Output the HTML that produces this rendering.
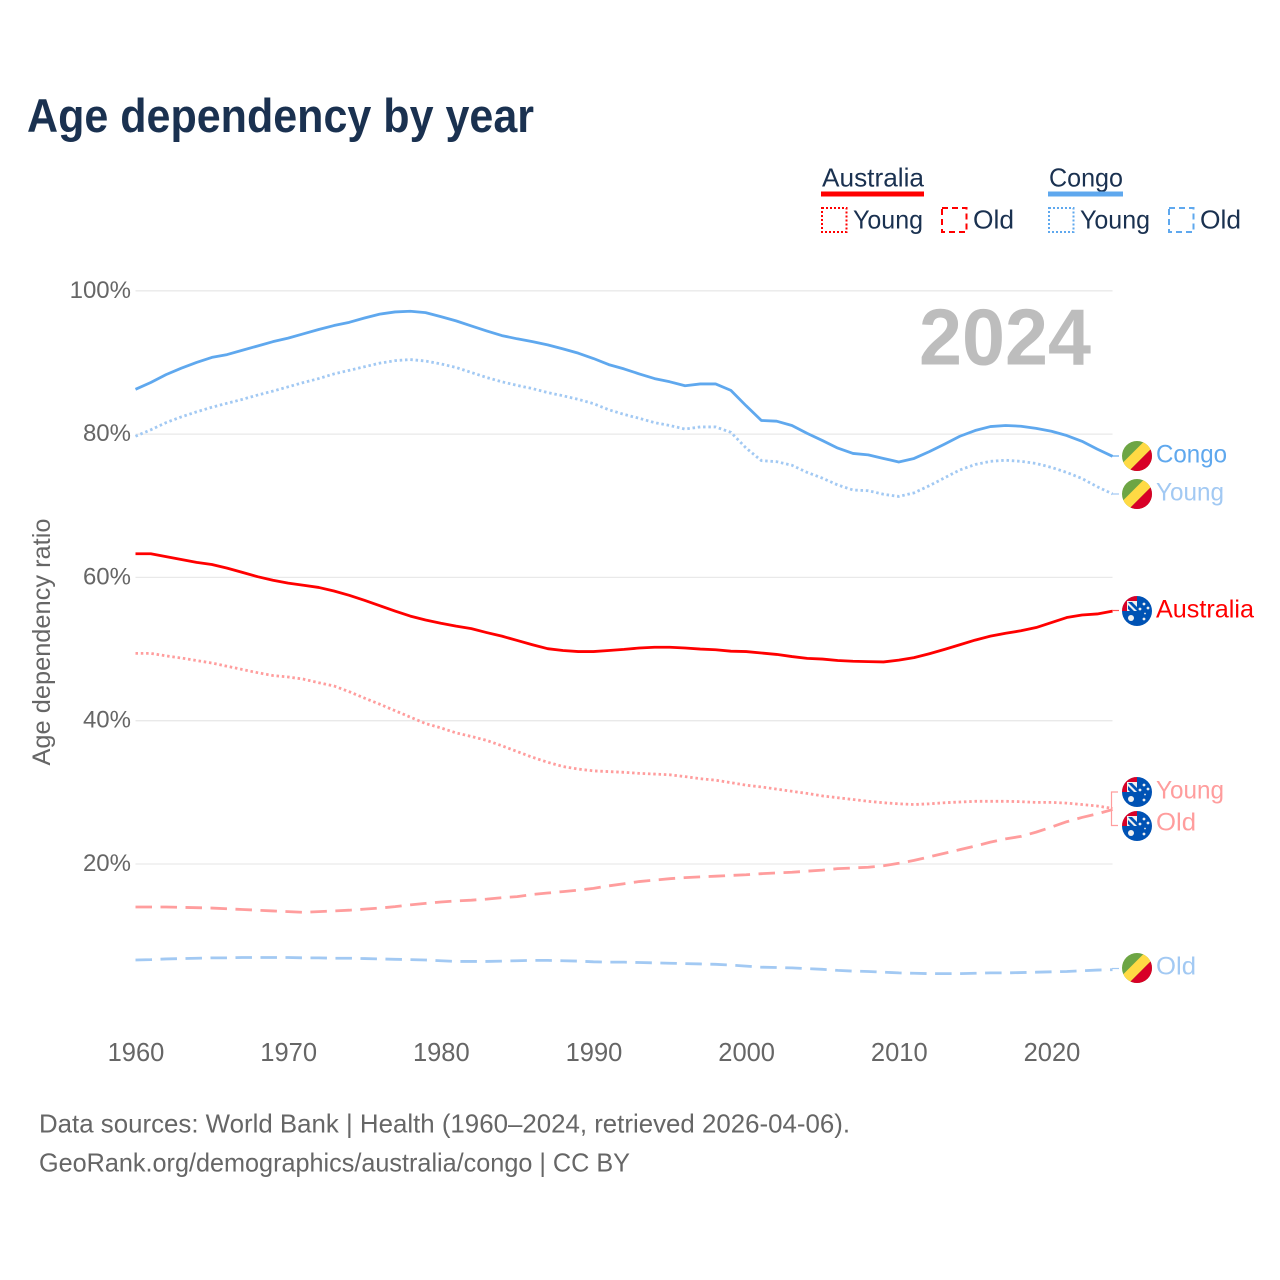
<!DOCTYPE html>
<html lang="en">
<head>
<meta charset="utf-8">
<title>Age dependency by year</title>
<style>
  html, body { margin: 0; padding: 0; background: #fff; }
  svg { display: block; font-family: "Liberation Sans", sans-serif; }
</style>
</head>
<body>
<svg id="chart" xmlns="http://www.w3.org/2000/svg" width="1280" height="1280" viewBox="0 0 1280 1280">
  <defs>
    <clipPath id="flag-clip"><circle cx="0" cy="0" r="15"/></clipPath>
    <g id="flag-congo" clip-path="url(#flag-clip)">
      <rect x="-16" y="-16" width="32" height="32" fill="#6da544"/>
      <polygon points="-20,12.5 12.5,-20 27,-20 -20,27" fill="#ffda44"/>
      <polygon points="-20,27 27,-20 27,27" fill="#d80027"/>
    </g>
    <g id="flag-australia" clip-path="url(#flag-clip)">
      <rect x="-16" y="-16" width="32" height="32" fill="#0052b4"/>
      <rect x="-15" y="-15" width="15" height="15" fill="#f0f0f0"/>
      <path d="M-15,-15 H0 V-10 H-10 V0 H-15 Z" fill="#d80027"/>
      <polygon points="-9,-9 -5,-9 0,-4 0,0" fill="#0052b4"/>
      <polygon points="-9,-6 -3,0 -7,0 -9,-2" fill="#0052b4"/>
      <circle cx="-6" cy="7" r="3" fill="#f0f0f0"/>
      <circle cx="7" cy="-7" r="1.4" fill="#f0f0f0"/>
      <circle cx="11" cy="-3" r="1.4" fill="#f0f0f0"/>
      <circle cx="3" cy="-2" r="1.4" fill="#f0f0f0"/>
      <circle cx="7" cy="8" r="1.4" fill="#f0f0f0"/>
      <circle cx="8" cy="2.5" r="0.9" fill="#f0f0f0"/>
    </g>
  </defs>

  <text x="27" y="132" font-size="47" font-weight="700" fill="#1a3150" textLength="507" lengthAdjust="spacingAndGlyphs">Age dependency by year</text>

  <g fill="#1a3150" font-size="26">
    <text x="822" y="186.5" textLength="102" lengthAdjust="spacingAndGlyphs">Australia</text>
    <rect x="821" y="191.5" width="103" height="5" fill="#ff0000"/>
    <rect x="822" y="208" width="24.5" height="24" fill="none" stroke="#ff0000" stroke-width="2" stroke-dasharray="2 2"/>
    <text x="853" y="228.5" textLength="70" lengthAdjust="spacingAndGlyphs">Young</text>
    <rect x="942" y="208" width="24.5" height="24" fill="none" stroke="#ff0000" stroke-width="2" stroke-dasharray="6 4"/>
    <text x="973" y="228.5" textLength="41" lengthAdjust="spacingAndGlyphs">Old</text>

    <text x="1049" y="186.5" textLength="74" lengthAdjust="spacingAndGlyphs">Congo</text>
    <rect x="1048" y="191.5" width="75" height="5" fill="#5fa8ee"/>
    <rect x="1049" y="208" width="24.5" height="24" fill="none" stroke="#5fa8ee" stroke-width="2" stroke-dasharray="2 2"/>
    <text x="1080" y="228.5" textLength="70" lengthAdjust="spacingAndGlyphs">Young</text>
    <rect x="1169" y="208" width="24.5" height="24" fill="none" stroke="#5fa8ee" stroke-width="2" stroke-dasharray="6 4"/>
    <text x="1200" y="228.5" textLength="41" lengthAdjust="spacingAndGlyphs">Old</text>
  </g>

  <g id="grid"></g>
  <g id="y-ticks"></g>
  <g id="x-ticks"></g>

  <text transform="translate(50 642) rotate(-90)" text-anchor="middle" font-size="25" fill="#666666" textLength="247" lengthAdjust="spacingAndGlyphs">Age dependency ratio</text>

  <text x="919" y="364.5" font-size="80" font-weight="700" fill="#bdbdbd" textLength="172" lengthAdjust="spacingAndGlyphs">2024</text>

  <g id="series"></g>

  <g fill="none" stroke-width="1.2">
    <path d="M1112 456 H1119" stroke="#5fa8ee"/>
    <path d="M1112 494 H1119" stroke="#a2c9f3"/>
    <path d="M1112 610.5 H1119" stroke="#ff5555"/>
    <path d="M1118 792 H1111.5 V825.5 H1118" stroke="#ff9d9d"/>
    <path d="M1112 968.5 H1119" stroke="#a2c9f3"/>
  </g>

  <g>
    <use href="#flag-congo" x="1137" y="456"/>
    <use href="#flag-congo" x="1137" y="494"/>
    <use href="#flag-australia" x="1137" y="611"/>
    <use href="#flag-australia" x="1137" y="792"/>
    <use href="#flag-australia" x="1137" y="826"/>
    <use href="#flag-congo" x="1137" y="968"/>
  </g>

  <g font-size="25">
    <text x="1156" y="462.5" fill="#5fa8ee" textLength="71" lengthAdjust="spacingAndGlyphs">Congo</text>
    <text x="1156" y="500.5" fill="#a2c9f3" textLength="68" lengthAdjust="spacingAndGlyphs">Young</text>
    <text x="1156" y="617.5" fill="#ff0000" textLength="98" lengthAdjust="spacingAndGlyphs">Australia</text>
    <text x="1156" y="798.5" fill="#ff9d9d" textLength="68" lengthAdjust="spacingAndGlyphs">Young</text>
    <text x="1156" y="830.5" fill="#ff9d9d" textLength="40" lengthAdjust="spacingAndGlyphs">Old</text>
    <text x="1156" y="974.5" fill="#a2c9f3" textLength="40" lengthAdjust="spacingAndGlyphs">Old</text>
  </g>

  <g font-size="26" fill="#666666">
    <text x="39" y="1132.5" textLength="811" lengthAdjust="spacingAndGlyphs">Data sources: World Bank | Health (1960–2024, retrieved 2026-04-06).</text>
    <text x="39" y="1171.5" textLength="591" lengthAdjust="spacingAndGlyphs">GeoRank.org/demographics/australia/congo | CC BY</text>
  </g>
</svg>

<script>
const firstYear = 1960;

const xTickYears = [1960, 1970, 1980, 1990, 2000, 2010, 2020];
const yTickValues = [20, 40, 60, 80, 100];

const australiaTotal = [63.3,63.3,62.9,62.5,62.1,61.8,61.3,60.7,60.1,59.6,59.2,58.9,58.6,58.1,57.5,56.8,56.05,55.3,54.6,54.05,53.6,53.2,52.85,52.3,51.8,51.2,50.6,50.05,49.8,49.65,49.65,49.8,49.95,50.15,50.25,50.25,50.15,50.0,49.9,49.7,49.65,49.45,49.25,48.95,48.7,48.6,48.4,48.3,48.25,48.2,48.45,48.8,49.35,49.95,50.6,51.25,51.8,52.2,52.55,53.0,53.7,54.4,54.75,54.9,55.3];
const australiaYoung = [49.4,49.4,49.05,48.75,48.4,48.05,47.6,47.15,46.7,46.3,46.1,45.8,45.3,44.85,44.05,43.15,42.3,41.4,40.5,39.6,39.0,38.3,37.8,37.25,36.5,35.7,34.9,34.2,33.6,33.25,33.0,32.9,32.8,32.65,32.55,32.45,32.2,31.9,31.7,31.35,31.0,30.75,30.45,30.15,29.85,29.5,29.25,29.0,28.75,28.55,28.4,28.3,28.4,28.55,28.65,28.75,28.75,28.75,28.7,28.6,28.6,28.5,28.3,28.1,27.75];
const australiaOld = [14.0,14.0,14.0,13.95,13.9,13.85,13.75,13.65,13.55,13.45,13.35,13.25,13.35,13.45,13.55,13.7,13.85,14.05,14.3,14.5,14.7,14.85,14.95,15.1,15.3,15.45,15.75,15.95,16.15,16.35,16.6,16.95,17.25,17.55,17.75,17.95,18.1,18.2,18.3,18.4,18.5,18.65,18.75,18.85,19.0,19.15,19.35,19.45,19.55,19.75,20.1,20.5,21.0,21.5,22.0,22.5,23.05,23.5,23.85,24.45,25.15,25.9,26.5,27.0,27.6];
const congoTotal = [86.25,87.2,88.3,89.2,90.0,90.7,91.1,91.7,92.3,92.9,93.4,94.0,94.6,95.15,95.6,96.2,96.75,97.05,97.15,96.95,96.4,95.8,95.1,94.4,93.75,93.3,92.9,92.45,91.9,91.3,90.55,89.7,89.1,88.4,87.75,87.3,86.75,87.0,87.0,86.1,83.95,81.9,81.8,81.2,80.1,79.1,78.05,77.3,77.1,76.6,76.1,76.6,77.55,78.6,79.7,80.5,81.05,81.2,81.1,80.8,80.4,79.8,79.0,77.9,76.9];
const congoYoung = [79.7,80.6,81.6,82.4,83.1,83.75,84.3,84.85,85.45,86.0,86.6,87.2,87.75,88.4,88.9,89.4,89.9,90.25,90.4,90.2,89.8,89.3,88.6,87.9,87.3,86.8,86.35,85.8,85.35,84.85,84.25,83.4,82.75,82.2,81.6,81.2,80.7,81.0,81.0,80.25,78.05,76.3,76.15,75.65,74.65,73.85,72.9,72.2,72.1,71.6,71.3,71.8,72.8,73.9,75.0,75.75,76.2,76.35,76.2,75.9,75.35,74.65,73.8,72.65,71.65];
const congoOld = [6.6,6.65,6.75,6.8,6.85,6.9,6.9,6.95,6.95,6.95,6.95,6.9,6.9,6.85,6.85,6.8,6.75,6.7,6.65,6.6,6.5,6.4,6.4,6.4,6.45,6.5,6.55,6.55,6.5,6.45,6.35,6.3,6.3,6.25,6.2,6.15,6.1,6.05,6.0,5.9,5.75,5.6,5.55,5.5,5.4,5.3,5.15,5.05,5.0,4.9,4.8,4.75,4.7,4.7,4.7,4.75,4.8,4.8,4.85,4.9,4.95,5.0,5.1,5.2,5.25];

function xScale(year) { return 135.5 + (year - 1960) * 15.266; }
function yScale(pct) { return 1007.3 - pct * 7.165; }

const SVG_NS = 'http://www.w3.org/2000/svg';
const gridG = document.getElementById('grid');
const yTickG = document.getElementById('y-ticks');
const xTickG = document.getElementById('x-ticks');
const seriesG = document.getElementById('series');










yTickValues.forEach(function (v) {
  const line = document.createElementNS(SVG_NS, 'line');
  
  
  line.setAttribute('x1', xScale(1960));
  line.setAttribute('x2', xScale(2024));
  line.setAttribute('y1', yScale(v));
  line.setAttribute('y2', yScale(v));
  line.setAttribute('stroke', '#e9e9e9');
  line.setAttribute('stroke-width', '1.3');
  gridG.appendChild(line);

  const label = document.createElementNS(SVG_NS, 'text');
  
  
  label.setAttribute('x', '131');
  label.setAttribute('y', yScale(v) + 7);
  label.setAttribute('text-anchor', 'end');
  label.setAttribute('font-size', '24');
  label.setAttribute('fill', '#666666');
  label.textContent = v + '%';
  yTickG.appendChild(label);
});

xTickYears.forEach(function (yr) {
  const label = document.createElementNS(SVG_NS, 'text');
  
  
  label.setAttribute('x', xScale(yr) + 0.5);
  label.setAttribute('y', '1061');
  label.setAttribute('text-anchor', 'middle');
  label.setAttribute('font-size', '25.5');
  label.setAttribute('fill', '#666666');
  label.textContent = String(yr);
  xTickG.appendChild(label);
});

function drawLine(values, color, width, dash, name) {
  const parts = values.map(function (v, i) {
    return xScale(firstYear + i).toFixed(2) + ',' + yScale(v).toFixed(2);
  });
  const path = document.createElementNS(SVG_NS, 'polyline');
  
  
  path.setAttribute('points', parts.join(' '));
  path.setAttribute('fill', 'none');
  path.setAttribute('stroke', color);
  path.setAttribute('stroke-width', width);
  path.setAttribute('stroke-linejoin', 'round');
  if (dash) path.setAttribute('stroke-dasharray', dash);
  seriesG.appendChild(path);
}

drawLine(congoOld, '#a2c9f3', 2.8, '16.5 8.5', 'line-congo-old');
drawLine(australiaOld, '#ff9d9d', 2.8, '16.5 8.5', 'line-australia-old');
drawLine(congoYoung, '#a2c9f3', 2.8, '2.5 2.8', 'line-congo-young');
drawLine(australiaYoung, '#ff9d9d', 2.8, '2.5 2.8', 'line-australia-young');
drawLine(congoTotal, '#5fa8ee', 2.8, null, 'line-congo-total');
drawLine(australiaTotal, '#ff0000', 2.8, null, 'line-australia-total');
</script>
</body>
</html>
